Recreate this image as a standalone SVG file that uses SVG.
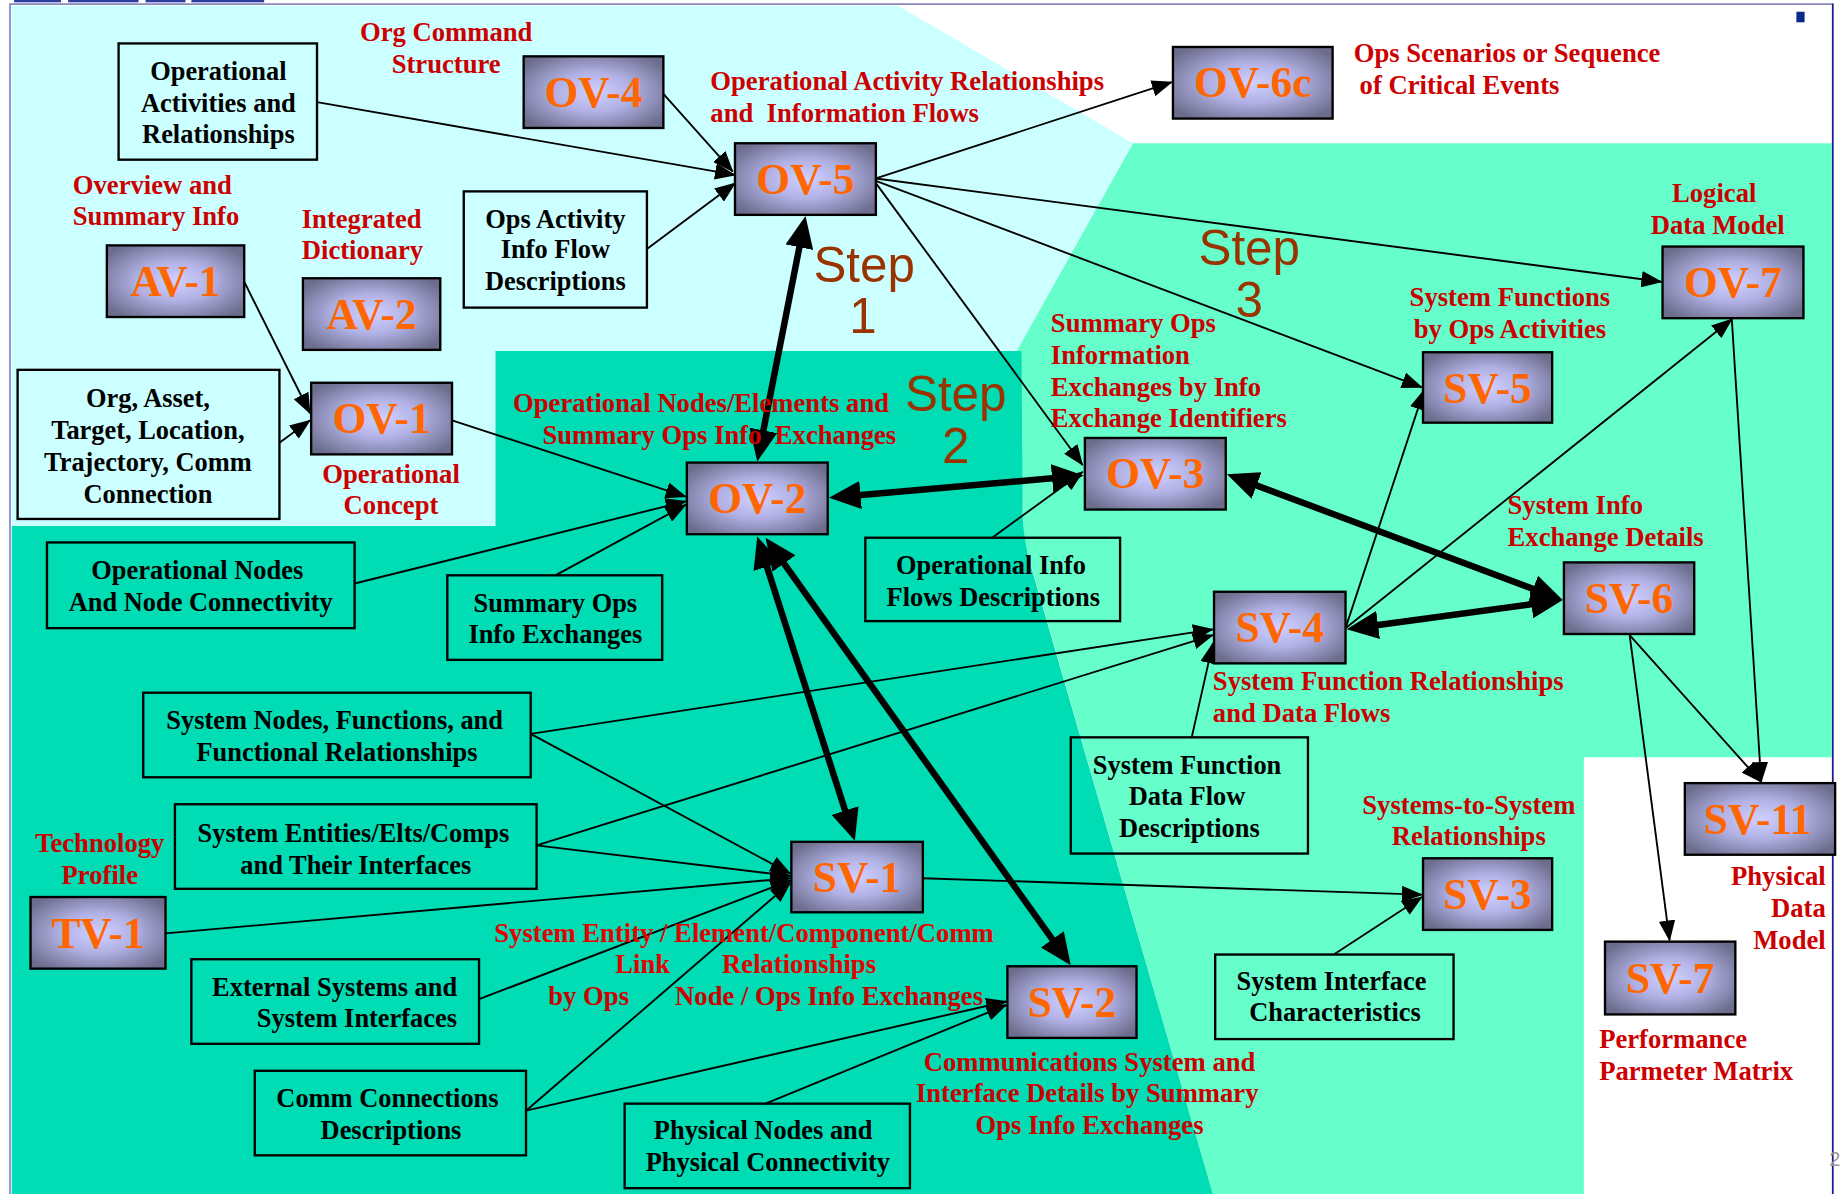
<svg xmlns="http://www.w3.org/2000/svg" width="1841" height="1194" viewBox="0 0 1841 1194">
<defs>
<radialGradient id="ng" cx="50%" cy="50%" r="62%">
<stop offset="0" stop-color="#d0d0ff"/>
<stop offset="0.45" stop-color="#b0b0e4"/>
<stop offset="1" stop-color="#6c6c8c"/>
</radialGradient>
<marker id="a" markerUnits="userSpaceOnUse" markerWidth="18" markerHeight="14" refX="17" refY="7" orient="auto">
<path d="M0,0 L18,7 L0,14 z" fill="#000"/>
</marker>
<marker id="A" markerUnits="userSpaceOnUse" markerWidth="28" markerHeight="24" refX="19" refY="12" orient="auto-start-reverse">
<path d="M0,0 L27,12 L0,24 z" fill="#000"/>
</marker>
<style>
.nb{fill:url(#ng);stroke:#000;stroke-width:2}
.nt{font-family:"Liberation Serif",serif;font-weight:bold;font-size:37px;fill:#ff6600;text-anchor:middle}
.bx{fill:none;stroke:#000;stroke-width:2}
.bt{font-family:"Liberation Serif",serif;font-weight:bold;font-size:22.5px;fill:#000;text-anchor:middle}
.rl{font-family:"Liberation Serif",serif;font-weight:bold;font-size:22.7px;fill:#cc0000}
.rb{fill:#e80000}
.mid{text-anchor:middle}
.end{text-anchor:end}
.st{font-family:"Liberation Sans",Arial,sans-serif;font-size:42px;fill:#993300;text-anchor:middle}
.cn{stroke:#000;stroke-width:1.6;fill:none;marker-end:url(#a)}
.tk{stroke:#000;stroke-width:5.5;fill:none;marker-start:url(#A);marker-end:url(#A)}
</style>
</defs>
<g transform="scale(1.174107)">
<!-- background -->
<rect x="0" y="0" width="1568" height="1017" fill="#ffffff"/>
<polygon points="10,5 765,5 965,122 866,299 422,299 422,448 10,448" fill="#ccffff"/>
<polygon points="965,122 1560,122 1560,645 1349,645 1349,1017 1033,1017 872,460 866,299" fill="#66ffcc"/>
<path d="M10,448 L422,448 L422,299 L870,299 L871,440 Q872,462 878,482 L1033,1017 L10,1017 z" fill="#00dcb4"/>
<line x1="8" y1="3.5" x2="1561" y2="3.5" stroke="#8888bb" stroke-width="1.5"/>
<line x1="8.5" y1="3" x2="8.5" y2="1017" stroke="#8888cc" stroke-width="1.5"/>
<line x1="1561" y1="3" x2="1561" y2="1017" stroke="#1a1a88" stroke-width="1.5"/>
<g fill="#3040a0">
<rect x="12" y="0" width="40" height="2"/>
<rect x="58" y="0" width="60" height="2"/>
<rect x="124" y="0" width="34" height="2"/>
<rect x="163" y="0" width="62" height="2"/>
</g>
<rect x="1530" y="10" width="7" height="9" fill="#0a2a8a"/>
<text x="1558" y="993" font-family="Liberation Sans, sans-serif" font-size="17" fill="#999999">2</text>

<!-- step labels -->
<g id="step1"><text class="st" x="736" y="240">Step</text><text class="st" x="735" y="284">1</text></g>
<g id="step2"><text class="st" x="814" y="350">Step</text><text class="st" x="814" y="394">2</text></g>
<g id="step3"><text class="st" x="1064" y="226">Step</text><text class="st" x="1064" y="270">3</text></g>

<!-- connectors -->
<g id="connectors">
<line class="cn" x1="270" y1="87" x2="626" y2="149"/>
<line class="cn" x1="565" y1="80" x2="624" y2="146"/>
<line class="cn" x1="551" y1="212" x2="626" y2="156"/>
<line class="cn" x1="746" y1="152" x2="998" y2="70"/>
<line class="cn" x1="746" y1="152" x2="1415" y2="240"/>
<line class="cn" x1="746" y1="154" x2="1211" y2="330"/>
<line class="cn" x1="746" y1="156" x2="922" y2="396"/>
<line class="cn" x1="208" y1="240" x2="264" y2="352"/>
<line class="cn" x1="238" y1="377" x2="264" y2="358"/>
<line class="cn" x1="385" y1="358" x2="584" y2="423"/>
<line class="cn" x1="302" y1="497" x2="584" y2="427"/>
<line class="cn" x1="473" y1="490" x2="584" y2="430"/>
<line class="cn" x1="845" y1="458" x2="922" y2="402"/>
<line class="cn" x1="1146" y1="535" x2="1213" y2="332"/>
<line class="cn" x1="1146" y1="535" x2="1475" y2="272"/>
<line class="cn" x1="1475" y1="272" x2="1500" y2="666"/>
<line class="cn" x1="1388" y1="541" x2="1500" y2="666"/>
<line class="cn" x1="1388" y1="541" x2="1422" y2="801"/>
<line class="cn" x1="452" y1="625" x2="1033" y2="536"/>
<line class="cn" x1="457" y1="720" x2="1033" y2="541"/>
<line class="cn" x1="1015" y1="628" x2="1033" y2="548"/>
<line class="cn" x1="452" y1="625" x2="673" y2="744"/>
<line class="cn" x1="457" y1="720" x2="673" y2="746"/>
<line class="cn" x1="141" y1="795" x2="673" y2="748"/>
<line class="cn" x1="408" y1="851" x2="673" y2="750"/>
<line class="cn" x1="448" y1="946" x2="673" y2="752"/>
<line class="cn" x1="448" y1="946" x2="857" y2="853"/>
<line class="cn" x1="652" y1="940" x2="857" y2="856"/>
<line class="cn" x1="786" y1="748" x2="1211" y2="762"/>
<line class="cn" x1="1136" y1="813" x2="1211" y2="764"/>
<line class="tk" x1="684.5" y1="191.9" x2="646.5" y2="385.2"/>
<line class="tk" x1="714" y1="423.3" x2="915" y2="405.7"/>
<line class="tk" x1="1052.5" y1="406.8" x2="1323.5" y2="508.2"/>
<line class="tk" x1="1154.9" y1="534.9" x2="1323.1" y2="512.1"/>
<line class="tk" x1="647.4" y1="464.6" x2="725.6" y2="708.4"/>
<line class="tk" x1="656.7" y1="464.5" x2="907.3" y2="815.5"/>
</g>

<!-- view nodes -->
<g id="OV-4"><rect class="nb" x="446" y="48" width="119" height="61"/><text class="nt" x="505.5" y="91">OV-4</text></g>
<g id="OV-6c"><rect class="nb" x="999" y="40" width="136" height="61"/><text class="nt" x="1067" y="83">OV-6c</text></g>
<g id="OV-5"><rect class="nb" x="626" y="122" width="120" height="61"/><text class="nt" x="686" y="165">OV-5</text></g>
<g id="AV-1"><rect class="nb" x="91" y="209" width="117" height="61"/><text class="nt" x="149.5" y="252">AV-1</text></g>
<g id="AV-2"><rect class="nb" x="258" y="237" width="117" height="61"/><text class="nt" x="316.5" y="280">AV-2</text></g>
<g id="OV-7"><rect class="nb" x="1416" y="210" width="120" height="61"/><text class="nt" x="1476" y="253">OV-7</text></g>
<g id="SV-5"><rect class="nb" x="1212" y="300" width="110" height="60"/><text class="nt" x="1267" y="343">SV-5</text></g>
<g id="OV-1"><rect class="nb" x="265" y="326" width="120" height="61"/><text class="nt" x="325" y="369">OV-1</text></g>
<g id="OV-2"><rect class="nb" x="585" y="394" width="120" height="61"/><text class="nt" x="645" y="437">OV-2</text></g>
<g id="OV-3"><rect class="nb" x="924" y="373" width="120" height="61"/><text class="nt" x="984" y="416">OV-3</text></g>
<g id="SV-6"><rect class="nb" x="1332" y="479" width="111" height="61"/><text class="nt" x="1387.5" y="522">SV-6</text></g>
<g id="SV-4"><rect class="nb" x="1034" y="504" width="112" height="61"/><text class="nt" x="1090" y="547">SV-4</text></g>
<g id="SV-11"><rect class="nb" x="1435" y="667" width="128" height="61"/><text class="nt" x="1497" y="710">SV-11</text></g>
<g id="SV-1"><rect class="nb" x="674" y="717" width="112" height="60"/><text class="nt" x="730" y="760">SV-1</text></g>
<g id="SV-3"><rect class="nb" x="1212" y="731" width="110" height="61"/><text class="nt" x="1267" y="774">SV-3</text></g>
<g id="SV-2"><rect class="nb" x="858" y="823" width="110" height="61"/><text class="nt" x="913" y="866">SV-2</text></g>
<g id="SV-7"><rect class="nb" x="1367" y="802" width="111" height="62"/><text class="nt" x="1422.5" y="846">SV-7</text></g>
<g id="TV-1"><rect class="nb" x="26" y="764" width="115" height="61"/><text class="nt" x="83.5" y="807">TV-1</text></g>

<!-- description boxes -->
<g id="op-activities"><rect class="bx" x="101" y="37" width="169" height="99"/><text class="bt" x="186" y="68">Operational</text><text class="bt" x="186" y="95">Activities and</text><text class="bt" x="186" y="122">Relationships</text></g>
<g id="ops-activity-info"><rect class="bx" x="395" y="163" width="156" height="99"/><text class="bt" x="473" y="194">Ops Activity</text><text class="bt" x="473" y="220">Info Flow</text><text class="bt" x="473" y="247">Descriptions</text></g>
<g id="org-asset"><rect class="bx" x="15" y="315" width="223" height="127"/><text class="bt" x="126" y="347">Org, Asset,</text><text class="bt" x="126" y="374">Target, Location,</text><text class="bt" x="126" y="401">Trajectory, Comm</text><text class="bt" x="126" y="428">Connection</text></g>
<g id="op-nodes"><rect class="bx" x="40" y="462" width="262" height="73"/><text class="bt" x="168" y="493">Operational Nodes</text><text class="bt" x="171" y="520">And Node Connectivity</text></g>
<g id="summary-ops"><rect class="bx" x="381" y="490" width="183" height="72"/><text class="bt" x="473" y="521">Summary Ops</text><text class="bt" x="473" y="548">Info Exchanges</text></g>
<g id="op-info-flows"><rect class="bx" x="737" y="458" width="217" height="71"/><text class="bt" x="844" y="489">Operational Info</text><text class="bt" x="846" y="516">Flows Descriptions</text></g>
<g id="sys-nodes"><rect class="bx" x="122" y="590" width="330" height="72"/><text class="bt" x="285" y="621">System Nodes, Functions, and</text><text class="bt" x="287" y="648">Functional Relationships</text></g>
<g id="sys-entities"><rect class="bx" x="149" y="685" width="308" height="72"/><text class="bt" x="301" y="717">System Entities/Elts/Comps</text><text class="bt" x="303" y="744">and Their Interfaces</text></g>
<g id="ext-sys"><rect class="bx" x="163" y="817" width="245" height="72"/><text class="bt" x="285" y="848">External Systems and</text><text class="bt" x="304" y="875">System Interfaces</text></g>
<g id="comm-conn"><rect class="bx" x="217" y="912" width="231" height="72"/><text class="bt" x="330" y="943">Comm Connections</text><text class="bt" x="333" y="970">Descriptions</text></g>
<g id="phys-nodes"><rect class="bx" x="532" y="940" width="243" height="72"/><text class="bt" x="650" y="970">Physical Nodes and</text><text class="bt" x="654" y="997">Physical Connectivity</text></g>
<g id="sys-func-df"><rect class="bx" x="912" y="628" width="202" height="99"/><text class="bt" x="1011" y="659">System Function</text><text class="bt" x="1011" y="686">Data Flow</text><text class="bt" x="1013" y="713">Descriptions</text></g>
<g id="sys-interface"><rect class="bx" x="1035" y="813" width="203" height="72"/><text class="bt" x="1134" y="843">System Interface</text><text class="bt" x="1137" y="870">Characteristics</text></g>

<!-- red labels -->
<g id="labels">
<text class="rl mid" x="380" y="35">Org Command</text>
<text class="rl mid" x="380" y="62">Structure</text>
<text class="rl" x="605" y="77">Operational Activity Relationships</text>
<text class="rl" x="605" y="104" xml:space="preserve">and  Information Flows</text>
<text class="rl" x="1153" y="53">Ops Scenarios or Sequence</text>
<text class="rl" x="1158" y="80">of Critical Events</text>
<text class="rl" x="62" y="165">Overview and</text>
<text class="rl" x="62" y="192">Summary Info</text>
<text class="rl" x="257" y="194">Integrated</text>
<text class="rl" x="257" y="221">Dictionary</text>
<text class="rl mid" x="1460" y="172">Logical</text>
<text class="rl mid" x="1463" y="199">Data Model</text>
<text class="rl mid" x="1286" y="261">System Functions</text>
<text class="rl mid" x="1286" y="288">by Ops Activities</text>
<text class="rl" x="895" y="283">Summary Ops</text>
<text class="rl" x="895" y="310">Information</text>
<text class="rl" x="895" y="337">Exchanges by Info</text>
<text class="rl" x="895" y="364">Exchange Identifiers</text>
<text class="rl" x="437" y="351">Operational Nodes/Elements and</text>
<text class="rl" x="462" y="378" xml:space="preserve">Summary Ops Info  Exchanges</text>
<text class="rl mid" x="333" y="411">Operational</text>
<text class="rl mid" x="333" y="438">Concept</text>
<text class="rl" x="1284" y="438">System Info</text>
<text class="rl" x="1284" y="465">Exchange Details</text>
<text class="rl" x="1033" y="588">System Function Relationships</text>
<text class="rl" x="1033" y="615">and Data Flows</text>
<text class="rl mid" x="1251" y="693">Systems-to-System</text>
<text class="rl mid" x="1251" y="720">Relationships</text>
<text class="rl end" x="1555" y="754">Physical</text>
<text class="rl end" x="1555" y="781">Data</text>
<text class="rl end" x="1555" y="808">Model</text>
<text class="rl mid" x="85" y="726">Technology</text>
<text class="rl mid" x="85" y="753">Profile</text>
<text class="rl rb" x="421" y="802">System Entity / Element/Component/Comm</text>
<text class="rl rb" x="524" y="829">Link</text>
<text class="rl rb" x="615" y="829">Relationships</text>
<text class="rl" x="467" y="856">by Ops</text>
<text class="rl" x="575" y="856">Node / Ops Info Exchanges</text>
<text class="rl mid" x="928" y="912">Communications System and</text>
<text class="rl mid" x="926" y="939">Interface Details by Summary</text>
<text class="rl mid" x="928" y="966">Ops Info Exchanges</text>
<text class="rl" x="1362" y="893">Performance</text>
<text class="rl" x="1362" y="920">Parmeter Matrix</text>
</g>
</g>
</svg>
